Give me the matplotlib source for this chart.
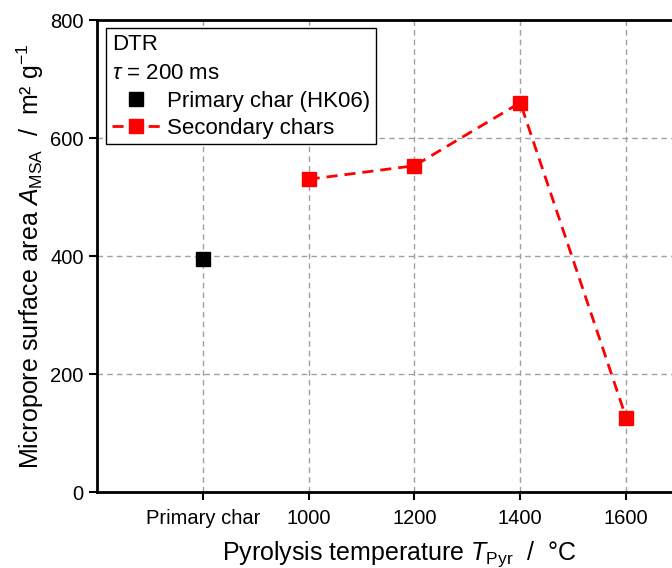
import numpy as np
import matplotlib
matplotlib.use('Agg')
import matplotlib.pyplot as plt

plt.rcParams['font.family'] = ['Liberation Sans', 'DejaVu Sans']
plt.rcParams['mathtext.fontset'] = 'custom'
plt.rcParams['mathtext.rm'] = 'Liberation Sans'
plt.rcParams['mathtext.it'] = 'Liberation Sans:italic'

# data
primary_x = [800]
primary_y = [395]
secondary_x = [1000, 1200, 1400, 1600]
secondary_y = [530, 553, 660, 126]
x_ticks = [800, 1000, 1200, 1400, 1600]
x_labels = ['Primary char', '1000', '1200', '1400', '1600']
y_ticks = [0, 200, 400, 600, 800]

fig = plt.figure(figsize=(6.72, 5.68), dpi=100)
ax = fig.add_axes([97/672, 1 - 492/568, (679 - 97)/672, 472/568])

ax.grid(True, color='#a0a0a0', linestyle=(0, (4, 3)), linewidth=1)
ax.set_axisbelow(True)

ax.plot(primary_x, primary_y, 's', color='black', markersize=10,
        label='Primary char (HK06)')
ax.plot(secondary_x, secondary_y, 's--', color='red', markersize=10,
        linewidth=2, dashes=(4, 2.5), label='Secondary chars')

ax.set_xlim(600, 1700)
ax.set_ylim(0, 800)
ax.set_xticks(x_ticks)
ax.set_xticklabels(x_labels)
ax.set_yticks(y_ticks)
ax.tick_params(direction='out', length=6, width=1.5, labelsize=14.5)
ax.tick_params(axis='x', pad=6)
for s in ax.spines.values():
    s.set_linewidth(2)

ax.set_xlabel(r'Pyrolysis temperature $T_\mathrm{Pyr}$  /  °C', fontsize=18)
ax.xaxis.set_label_coords(0.52, -0.10)
ax.set_ylabel(r'Micropore surface area $A_\mathrm{MSA}$  /  m² g$^{-1}$', fontsize=18, labelpad=3)

leg = ax.legend(title='DTR\n' + r'$\tau$ = 200 ms', alignment='left',
                loc='upper left', bbox_to_anchor=(0.016, 0.983),
                fontsize=16, title_fontsize=16, fancybox=False,
                edgecolor='black', framealpha=1, borderpad=0.25,
                handlelength=2.2, handletextpad=0.3,
                labelspacing=0.28, borderaxespad=0)
leg.get_frame().set_linewidth(1)
leg.get_title().set_linespacing(1.55)

fig.savefig('out.png', dpi=100)
